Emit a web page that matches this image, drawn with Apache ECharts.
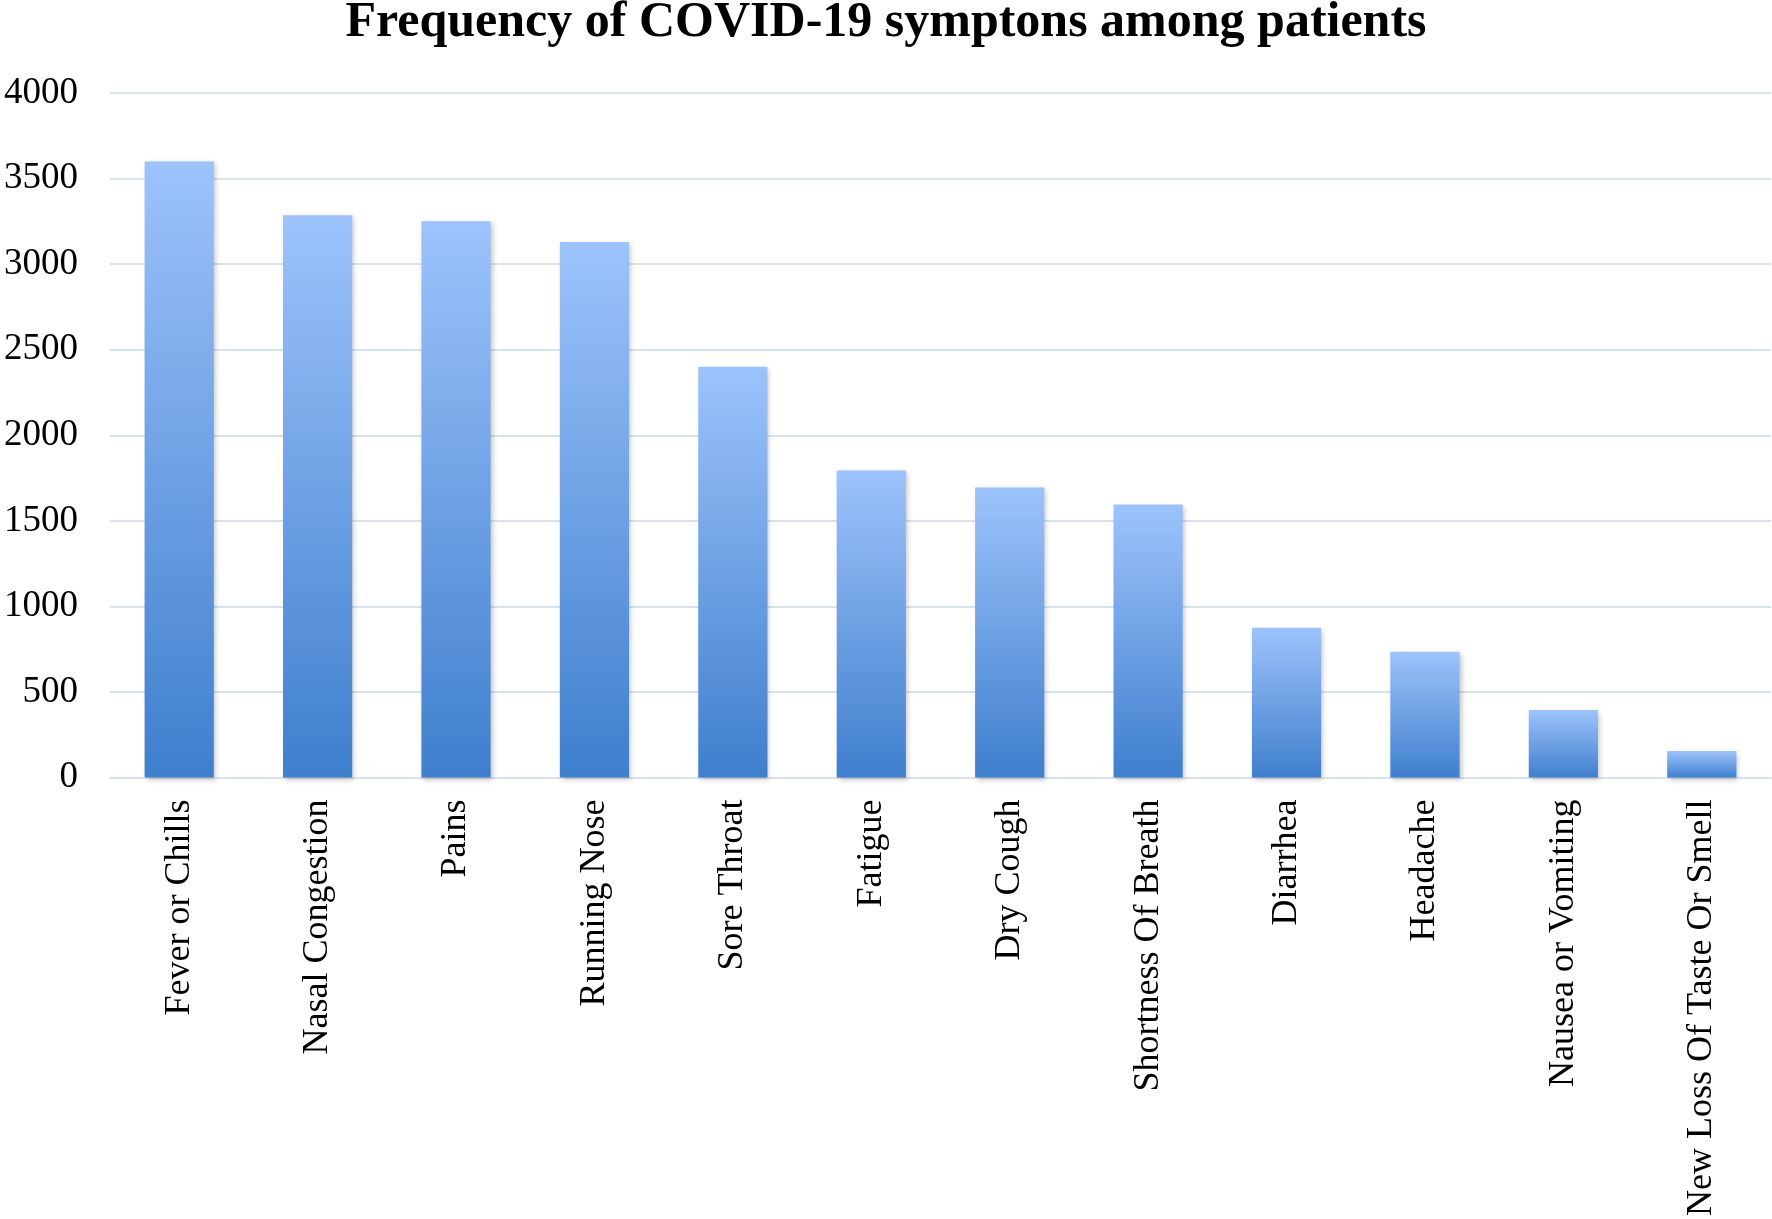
<!DOCTYPE html>
<html><head><meta charset="utf-8">
<script src="https://cdn.jsdelivr.net/npm/echarts@6/dist/echarts.min.js"></script>
<style>html,body{margin:0;padding:0;background:#fff}#c{width:1772px;height:1219px}</style>
</head><body><div id="c"></div>
<script>
var categories = ["Fever or Chills","Nasal Congestion","Pains","Running Nose","Sore Throat","Fatigue","Dry Cough","Shortness Of Breath","Diarrhea","Headache","Nausea or Vomiting","New Loss Of Taste Or Smell"];
var values = [3600,3285,3250,3130,2400,1795,1695,1595,875,735,395,155];
var yTicks = {min:0,max:4000,interval:500};
var titleText = "Frequency of COVID-19 symptons among patients";

var chart = echarts.init(document.getElementById('c'));
chart.setOption({
  animation:false,
  backgroundColor:'#ffffff',
  title:{text:titleText,left:'center',top:-7,textStyle:{fontFamily:'Liberation Serif',fontWeight:'bold',fontSize:50,color:'#000'}},
  grid:{left:110,right:1,top:93,bottom:435,containLabel:false},
  xAxis:{type:'category',data:categories,
    axisLine:{show:true,lineStyle:{color:'#D9E3EE',width:2}},
    axisTick:{show:false},
    axisLabel:{rotate:90,interval:0,margin:22,fontFamily:'Liberation Serif',fontSize:36,color:'#000'}},
  yAxis:{type:'value',min:yTicks.min,max:yTicks.max,interval:yTicks.interval,
    axisLine:{show:false},axisTick:{show:false},
    splitLine:{lineStyle:{color:'#D9E3EE',width:2}},
    axisLabel:{margin:32,fontFamily:'Liberation Serif',fontSize:37,color:'#000',formatter:function(v){return String(v);}}},
  series:[{type:'bar',data:values,barCategoryGap:'50%',
    itemStyle:{color:new echarts.graphic.LinearGradient(0,0,0,1,[{offset:0,color:'#9DC3FB'},{offset:1,color:'#3F7FCD'}]),
      shadowBlur:5,shadowColor:'rgba(0,0,0,0.22)',shadowOffsetX:2,shadowOffsetY:2}}]
});
</script></body></html>
